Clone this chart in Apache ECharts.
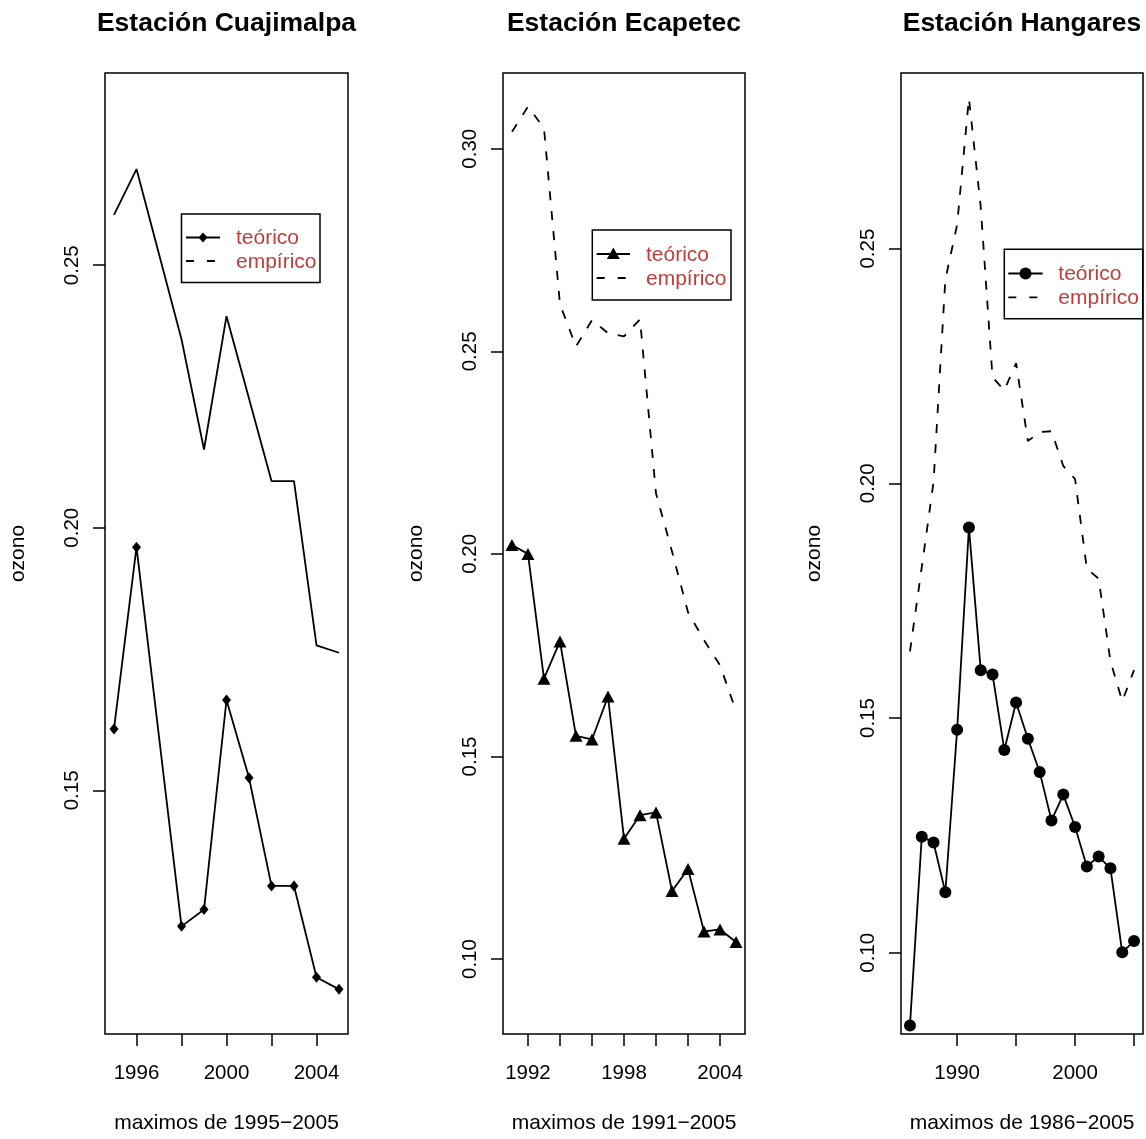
<!DOCTYPE html>
<html>
<head>
<meta charset="utf-8">
<script src="https://cdn.jsdelivr.net/npm/echarts@6/dist/echarts.min.js"></script>
<style>
html,body{margin:0;padding:0;background:#fff;}
#chart{width:1146px;height:1139px;}
</style>
</head>
<body>
<div id="chart"></div>
<script>
// ---- Data ----
const titles = ['Estación Cuajimalpa', 'Estación Ecapetec', 'Estación Hangares'];
const xNames = ['maximos de 1995\u22122005', 'maximos de 1991\u22122005', 'maximos de 1986\u22122005'];
const legendNames = ['teórico', 'empírico'];

const years1 = [1995, 1996, 1998, 1999, 2000, 2001, 2002, 2003, 2004, 2005];
const teorico1 = [0.1617, 0.1963, 0.1241, 0.1273, 0.1672, 0.1524, 0.1318, 0.1318, 0.1144, 0.1121];
const empirico1 = [0.2596, 0.2683, 0.2359, 0.2149, 0.2403, 0.2246, 0.2089, 0.2089, 0.1776, 0.1762];

const years2 = [1991, 1992, 1993, 1994, 1995, 1996, 1997, 1998, 1999, 2000, 2001, 2002, 2003, 2004, 2005];
const teorico2 = [0.2022, 0.2000, 0.1692, 0.1784, 0.1551, 0.1542, 0.1648, 0.1297, 0.1355, 0.1362, 0.1168, 0.1222, 0.1068, 0.1073, 0.1042];
const empirico2 = [0.3042, 0.3104, 0.3051, 0.2616, 0.2512, 0.2577, 0.2545, 0.2537, 0.2579, 0.2149, 0.2006, 0.1856, 0.1787, 0.1725, 0.1612];

const years3 = [1986, 1987, 1988, 1989, 1990, 1991, 1992, 1993, 1994, 1995, 1996, 1997, 1998, 1999, 2000, 2001, 2002, 2003, 2004, 2005];
const teorico3 = [0.0845, 0.1247, 0.1235, 0.1129, 0.1475, 0.1906, 0.1602, 0.1593, 0.1432, 0.1533, 0.1456, 0.1385, 0.1282, 0.1337, 0.1268, 0.1184, 0.1205, 0.1180, 0.1001, 0.1025];
const empirico3 = [0.1642, 0.1821, 0.2003, 0.2434, 0.2551, 0.2820, 0.2589, 0.2226, 0.2198, 0.2256, 0.2090, 0.2109, 0.2111, 0.2037, 0.2009, 0.1818, 0.1797, 0.1621, 0.1536, 0.1602];

// tick values / labels
const xTicks1 = [1996, 1998, 2000, 2002, 2004];
const xLabels1 = [1996, 2000, 2004];
const xTicks2 = [1992, 1994, 1996, 1998, 2000, 2002, 2004];
const xLabels2 = [1992, 1998, 2004];
const xTicks3 = [1990, 1995, 2000, 2005];
const xLabels3 = [1990, 2000];
const yTicks1 = [0.15, 0.20, 0.25];
const yTicks2 = [0.10, 0.15, 0.20, 0.25, 0.30];
const yTicks3 = [0.10, 0.15, 0.20, 0.25];

// ---- Layout ----
const FONT = 'Liberation Sans';
const gridTop = 73, gridH = 964;
const grids = [
  {left: 105, width: 243},
  {left: 503, width: 242},
  {left: 901, width: 242}
];
const xRanges = [[1994.6, 2005.4], [1990.44, 2005.56], [1985.24, 2005.76]];
const yRanges = [[0.1036, 0.2866], [0.0815, 0.3187], [0.0827, 0.2874]];
const panels = [
  {years: years1, t: teorico1, e: empirico1, xt: xTicks1, xl: xLabels1, yt: yTicks1, sym: 'diamond', symSize: [9, 11], eDash: 'solid'},
  {years: years2, t: teorico2, e: empirico2, xt: xTicks2, xl: xLabels2, yt: yTicks2, sym: 'triangle', symSize: [13, 12], eDash: [9, 11]},
  {years: years3, t: teorico3, e: empirico3, xt: xTicks3, xl: xLabels3, yt: yTicks3, sym: 'circle', symSize: 12, eDash: [9, 11]}
];

const option = {
  animation: false,
  backgroundColor: '#fff',
  textStyle: {fontFamily: FONT},
  title: [], grid: [], xAxis: [], yAxis: [], series: [], graphic: []
};

const fmtY = v => v.toFixed(2);

panels.forEach((p, i) => {
  const g = grids[i];
  option.grid.push({left: g.left, top: gridTop, width: g.width, height: gridH,
    show: true, borderColor: '#000', borderWidth: 1.5, backgroundColor: 'transparent', containLabel: false});
  option.title.push({text: titles[i], left: g.left + g.width / 2, top: 10, textAlign: 'center', padding: 0,
    textStyle: {fontFamily: FONT, fontSize: 26.5, fontWeight: 'bold', color: '#000'}});
  option.xAxis.push({
    type: 'value', gridIndex: i, min: xRanges[i][0], max: xRanges[i][1],
    name: xNames[i], nameLocation: 'middle', nameGap: 79,
    nameTextStyle: {fontFamily: FONT, fontSize: 21, color: '#000'},
    splitLine: {show: false}, axisLine: {show: false},
    axisTick: {show: true, length: 12, inside: false, customValues: p.xt, lineStyle: {color: '#000', width: 1.5}},
    axisLabel: {show: true, customValues: p.xl, margin: 29, fontFamily: FONT, fontSize: 20.5, color: '#000', formatter: v => String(Math.round(v))}
  });
  option.yAxis.push({
    type: 'value', gridIndex: i, min: yRanges[i][0], max: yRanges[i][1],
    name: 'ozono', nameLocation: 'middle', nameGap: 76, nameRotate: 90,
    nameTextStyle: {fontFamily: FONT, fontSize: 21, color: '#000'},
    splitLine: {show: false}, axisLine: {show: false},
    axisTick: {show: true, length: 12, inside: false, customValues: p.yt, lineStyle: {color: '#000', width: 1.5}},
    axisLabel: {show: true, customValues: p.yt, rotate: 90, margin: 22, fontFamily: FONT, fontSize: 20.5, color: '#000', formatter: fmtY}
  });
  option.series.push({
    name: 'teórico ' + (i + 1), type: 'line', xAxisIndex: i, yAxisIndex: i,
    data: p.years.map((y, k) => [y, p.t[k]]),
    symbol: p.sym, symbolSize: p.symSize, showSymbol: true,
    itemStyle: {color: '#000'}, lineStyle: {color: '#000', width: 1.8},
    emphasis: {disabled: true}
  });
  option.series.push({
    name: 'empírico ' + (i + 1), type: 'line', xAxisIndex: i, yAxisIndex: i,
    data: p.years.map((y, k) => [y, p.e[k]]),
    symbol: 'none', showSymbol: false,
    lineStyle: {color: '#000', width: 1.8, type: p.eDash},
    emphasis: {disabled: true}
  });
});

// ---- Legends (decoration boxes) ----
const legendBoxes = [
  {x: 181.5, y: 214, w: 138.5, h: 68.5, lx0: 186, lx1: 220, r1: 237.5, r2: 261, tx: 236, sym: 'diamond'},
  {x: 592.3, y: 230, w: 138.7, h: 70, lx0: 596.7, lx1: 630, r1: 254, r2: 278, tx: 646, sym: 'triangle'},
  {x: 1004.3, y: 249.3, w: 138.4, h: 69.4, lx0: 1008.3, lx1: 1042.7, r1: 273.5, r2: 297.3, tx: 1058.3, sym: 'circle'}
];
const LEG_COLOR = '#c13c3c';
legendBoxes.forEach(b => {
  const cx = (b.lx0 + b.lx1) / 2;
  const els = [];
  els.push({type: 'rect', shape: {x: b.x, y: b.y, width: b.w, height: b.h}, style: {fill: '#fff', stroke: '#000', lineWidth: 1.5}});
  els.push({type: 'line', shape: {x1: b.lx0, y1: b.r1, x2: b.lx1, y2: b.r1}, style: {stroke: '#000', lineWidth: 1.8}});
  els.push({type: 'line', shape: {x1: b.lx0, y1: b.r2, x2: b.lx1, y2: b.r2}, style: {stroke: '#000', lineWidth: 1.8, lineDash: [8, 13]}});
  if (b.sym === 'diamond') {
    els.push({type: 'polygon', shape: {points: [[cx, b.r1 - 5], [cx + 4.5, b.r1], [cx, b.r1 + 5], [cx - 4.5, b.r1]]}, style: {fill: '#000'}});
  } else if (b.sym === 'triangle') {
    els.push({type: 'polygon', shape: {points: [[cx, b.r1 - 6.5], [cx + 6.5, b.r1 + 5], [cx - 6.5, b.r1 + 5]]}, style: {fill: '#000'}});
  } else {
    els.push({type: 'circle', shape: {cx: cx, cy: b.r1, r: 6}, style: {fill: '#000'}});
  }
  els.push({type: 'text', x: b.tx, y: b.r1 + 1, style: {text: legendNames[0], fill: LEG_COLOR, font: '21px "Liberation Sans"', textVerticalAlign: 'middle', textAlign: 'left'}});
  els.push({type: 'text', x: b.tx, y: b.r2 + 1, style: {text: legendNames[1], fill: LEG_COLOR, font: '21px "Liberation Sans"', textVerticalAlign: 'middle', textAlign: 'left'}});
  option.graphic.push({type: 'group', silent: true, z: 100, children: els});
});

const chart = echarts.init(document.getElementById('chart'), null, {renderer: 'canvas'});
chart.setOption(option);
</script>
</body>
</html>
